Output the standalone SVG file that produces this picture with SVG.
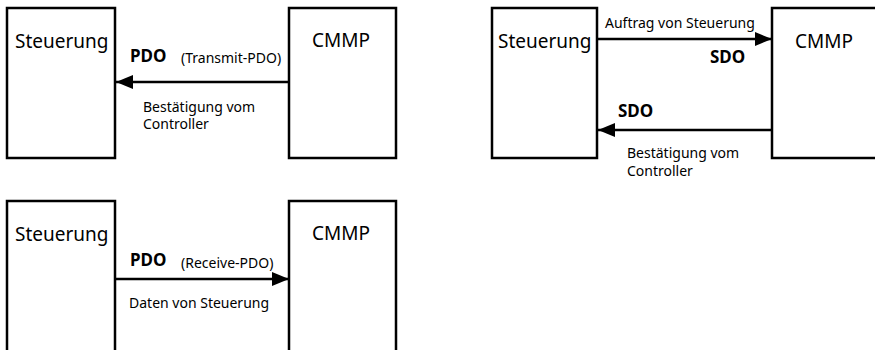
<svg xmlns="http://www.w3.org/2000/svg" width="875" height="350" viewBox="0 0 875 350">
<style>
.box{fill:#fff;stroke:#000;stroke-width:2.5}
.con{stroke:#000;stroke-width:2.5;fill:none}
text{font-family:"Noto Sans","Open Sans",sans-serif;fill:#000}
.big{font-size:19px}
.sm{font-size:14px}
.b{font-size:17px;font-weight:bold}
</style>
<defs>
<marker id="ah" markerUnits="userSpaceOnUse" markerWidth="18" markerHeight="14" refX="17" refY="7" orient="auto">
<path d="M0,0 L17,7 L0,14 Z" fill="#000"/>
</marker>
</defs>
<rect width="875" height="350" fill="#fff"/>
<g id="steuerung1"><rect class="box" x="7" y="8" width="108" height="150"/><text class="big" x="15" y="48">Steuerung</text></g>
<g id="cmmp1"><rect class="box" x="289" y="8" width="107" height="150"/><text class="big" x="312" y="47">CMMP</text></g>
<g id="steuerung2"><rect class="box" x="492" y="8" width="105" height="150"/><text class="big" x="498" y="48">Steuerung</text></g>
<g id="cmmp2"><rect class="box" x="772" y="8" width="115" height="150"/><text class="big" x="795" y="48">CMMP</text></g>
<g id="steuerung3"><rect class="box" x="7" y="201" width="108" height="170"/><text class="big" x="15" y="241">Steuerung</text></g>
<g id="cmmp3"><rect class="box" x="289" y="201" width="107" height="170"/><text class="big" x="312" y="240">CMMP</text></g>
<g id="connectors">
<line class="con" x1="289" y1="82" x2="116" y2="82" marker-end="url(#ah)"/>
<line class="con" x1="597" y1="39" x2="772" y2="39" marker-end="url(#ah)"/>
<line class="con" x1="772" y1="130" x2="598" y2="130" marker-end="url(#ah)"/>
<line class="con" x1="115" y1="279" x2="289" y2="279" marker-end="url(#ah)"/>
</g>
<g id="labels">
<text class="b" x="130" y="62">PDO</text>
<text class="sm" x="181" y="63">(Transmit-PDO)</text>
<text class="sm" x="143" y="112">Bestätigung vom</text>
<text class="sm" x="143" y="129">Controller</text>
<text class="sm" x="605" y="28">Auftrag von Steuerung</text>
<text class="b" x="710" y="63">SDO</text>
<text class="b" x="618" y="117">SDO</text>
<text class="sm" x="627" y="158">Bestätigung vom</text>
<text class="sm" x="627" y="176">Controller</text>
<text class="b" x="130" y="266">PDO</text>
<text class="sm" x="181" y="268">(Receive-PDO)</text>
<text class="sm" x="129" y="308">Daten von Steuerung</text>
</g>
</svg>
